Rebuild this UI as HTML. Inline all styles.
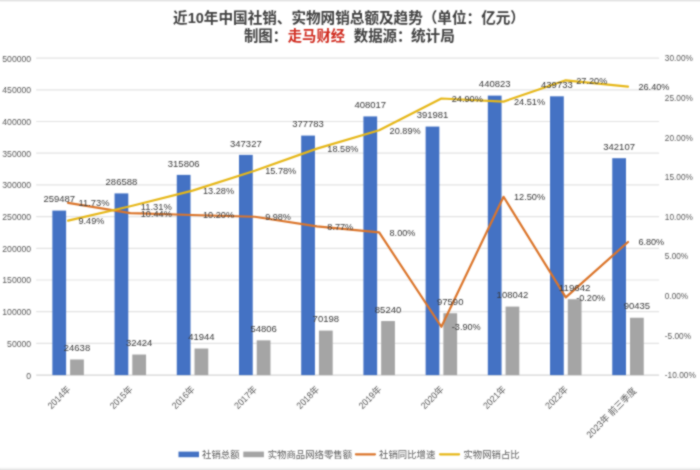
<!DOCTYPE html>
<html lang="zh-CN">
<head>
<meta charset="utf-8">
<title>近10年中国社销、实物网销总额及趋势</title>
<style>
html,body{margin:0;padding:0;background:#ffffff;}
body{width:700px;height:470px;overflow:hidden;position:relative;font-family:"Liberation Sans","Noto Sans CJK SC",sans-serif;}
svg text{white-space:pre;}
</style>
</head>
<body>
<svg width="700" height="470" viewBox="0 0 700 470" style="display:block;position:absolute;left:0;top:0">
<defs><filter id="soft" x="0" y="0" width="700" height="470" filterUnits="userSpaceOnUse" color-interpolation-filters="sRGB"><feConvolveMatrix order="3" kernelMatrix="1 2 1 2 8 2 1 2 1" divisor="20" edgeMode="duplicate" preserveAlpha="true"/></filter><linearGradient id="tg" x1="0" y1="0" x2="0" y2="1"><stop offset="0" stop-color="#d8d8d8"/><stop offset="0.5" stop-color="#f1f1f1"/><stop offset="1" stop-color="#ffffff"/></linearGradient><linearGradient id="bg" x1="0" y1="0" x2="0" y2="1"><stop offset="0" stop-color="#ffffff"/><stop offset="0.5" stop-color="#f3f3f3"/><stop offset="1" stop-color="#dcdcdc"/></linearGradient></defs>
<g filter="url(#soft)">
<rect x="0" y="0" width="700" height="470" fill="#ffffff"/>
<rect x="0" y="0" width="700" height="2.5" fill="url(#tg)"/>
<rect x="0" y="467" width="700" height="3" fill="url(#bg)"/>
<g stroke="#e0e0e0" stroke-width="1.2">
<line x1="36.2" y1="375.10" x2="659.1" y2="375.10" stroke="#d6d6d6"/>
<line x1="36.2" y1="343.40" x2="659.1" y2="343.40" stroke="#e3e3e3"/>
<line x1="36.2" y1="311.70" x2="659.1" y2="311.70" stroke="#e3e3e3"/>
<line x1="36.2" y1="280.00" x2="659.1" y2="280.00" stroke="#e3e3e3"/>
<line x1="36.2" y1="248.30" x2="659.1" y2="248.30" stroke="#e3e3e3"/>
<line x1="36.2" y1="216.60" x2="659.1" y2="216.60" stroke="#e3e3e3"/>
<line x1="36.2" y1="184.90" x2="659.1" y2="184.90" stroke="#e3e3e3"/>
<line x1="36.2" y1="153.20" x2="659.1" y2="153.20" stroke="#e3e3e3"/>
<line x1="36.2" y1="121.50" x2="659.1" y2="121.50" stroke="#e3e3e3"/>
<line x1="36.2" y1="89.80" x2="659.1" y2="89.80" stroke="#e3e3e3"/>
<line x1="36.2" y1="58.10" x2="659.1" y2="58.10" stroke="#e3e3e3"/>
</g>
<g font-family='"Liberation Sans", "Noto Sans CJK SC", sans-serif' font-size="8.9" fill="#595959" text-anchor="end">
<text x="31.2" y="378.50" textLength="4.83" lengthAdjust="spacingAndGlyphs">0</text>
<text x="31.2" y="346.80" textLength="24.15" lengthAdjust="spacingAndGlyphs">50000</text>
<text x="31.2" y="315.10" textLength="28.98" lengthAdjust="spacingAndGlyphs">100000</text>
<text x="31.2" y="283.40" textLength="28.98" lengthAdjust="spacingAndGlyphs">150000</text>
<text x="31.2" y="251.70" textLength="28.98" lengthAdjust="spacingAndGlyphs">200000</text>
<text x="31.2" y="220.00" textLength="28.98" lengthAdjust="spacingAndGlyphs">250000</text>
<text x="31.2" y="188.30" textLength="28.98" lengthAdjust="spacingAndGlyphs">300000</text>
<text x="31.2" y="156.60" textLength="28.98" lengthAdjust="spacingAndGlyphs">350000</text>
<text x="31.2" y="124.90" textLength="28.98" lengthAdjust="spacingAndGlyphs">400000</text>
<text x="31.2" y="93.20" textLength="28.98" lengthAdjust="spacingAndGlyphs">450000</text>
<text x="31.2" y="61.50" textLength="28.98" lengthAdjust="spacingAndGlyphs">500000</text>
</g>
<g font-family='"Liberation Sans", "Noto Sans CJK SC", sans-serif' font-size="8.7" fill="#595959" text-anchor="start">
<text x="664.8" y="378.30" textLength="31.00" lengthAdjust="spacingAndGlyphs">-10.00%</text>
<text x="664.8" y="338.68" textLength="26.30" lengthAdjust="spacingAndGlyphs">-5.00%</text>
<text x="664.8" y="299.05" textLength="23.40" lengthAdjust="spacingAndGlyphs">0.00%</text>
<text x="664.8" y="259.43" textLength="23.40" lengthAdjust="spacingAndGlyphs">5.00%</text>
<text x="664.8" y="219.80" textLength="28.10" lengthAdjust="spacingAndGlyphs">10.00%</text>
<text x="664.8" y="180.18" textLength="28.10" lengthAdjust="spacingAndGlyphs">15.00%</text>
<text x="664.8" y="140.55" textLength="28.10" lengthAdjust="spacingAndGlyphs">20.00%</text>
<text x="664.8" y="100.93" textLength="28.10" lengthAdjust="spacingAndGlyphs">25.00%</text>
<text x="664.8" y="61.30" textLength="28.10" lengthAdjust="spacingAndGlyphs">30.00%</text>
</g>
<g>
<rect x="52.36" y="210.59" width="13.75" height="164.51" fill="#4472c4"/>
<rect x="70.11" y="359.48" width="13.75" height="15.62" fill="#a5a5a5"/>
<rect x="114.56" y="193.40" width="13.75" height="181.70" fill="#4472c4"/>
<rect x="132.31" y="354.54" width="13.75" height="20.56" fill="#a5a5a5"/>
<rect x="176.78" y="174.88" width="13.75" height="200.22" fill="#4472c4"/>
<rect x="194.53" y="348.51" width="13.75" height="26.59" fill="#a5a5a5"/>
<rect x="238.99" y="154.89" width="13.75" height="220.21" fill="#4472c4"/>
<rect x="256.74" y="340.35" width="13.75" height="34.75" fill="#a5a5a5"/>
<rect x="301.19" y="135.59" width="13.75" height="239.51" fill="#4472c4"/>
<rect x="318.94" y="330.59" width="13.75" height="44.51" fill="#a5a5a5"/>
<rect x="363.41" y="116.42" width="13.75" height="258.68" fill="#4472c4"/>
<rect x="381.16" y="321.06" width="13.75" height="54.04" fill="#a5a5a5"/>
<rect x="425.62" y="126.58" width="13.75" height="248.52" fill="#4472c4"/>
<rect x="443.37" y="313.23" width="13.75" height="61.87" fill="#a5a5a5"/>
<rect x="487.82" y="95.62" width="13.75" height="279.48" fill="#4472c4"/>
<rect x="505.57" y="306.60" width="13.75" height="68.50" fill="#a5a5a5"/>
<rect x="550.03" y="96.31" width="13.75" height="278.79" fill="#4472c4"/>
<rect x="567.78" y="299.25" width="13.75" height="75.85" fill="#a5a5a5"/>
<rect x="612.25" y="158.20" width="13.75" height="216.90" fill="#4472c4"/>
<rect x="630.00" y="317.76" width="13.75" height="57.34" fill="#a5a5a5"/>
</g>
<polyline points="68.11,202.89 130.31,213.11 192.53,215.02 254.74,216.76 316.94,226.35 379.16,232.45 441.37,326.76 503.57,196.79 565.78,297.44 628.00,241.96" fill="none" stroke="#db752b" stroke-width="2.2" stroke-linejoin="round" stroke-linecap="round"/>
<polyline points="68.11,220.64 130.31,206.22 192.53,190.61 254.74,170.79 316.94,148.60 379.16,130.30 441.37,98.52 503.57,101.61 565.78,80.29 628.00,86.63" fill="none" stroke="#e6b718" stroke-width="2.2" stroke-linejoin="round" stroke-linecap="round"/>
<g font-family='"Liberation Sans", "Noto Sans CJK SC", sans-serif' font-size="9.6" fill="#383838">
<text x="59.23" y="202.24" text-anchor="middle" textLength="31.68" lengthAdjust="spacingAndGlyphs">259487</text>
<text x="76.98" y="351.13" text-anchor="middle" textLength="26.40" lengthAdjust="spacingAndGlyphs">24638</text>
<text x="121.44" y="185.05" text-anchor="middle" textLength="31.68" lengthAdjust="spacingAndGlyphs">286588</text>
<text x="139.19" y="346.19" text-anchor="middle" textLength="26.40" lengthAdjust="spacingAndGlyphs">32424</text>
<text x="183.65" y="166.53" text-anchor="middle" textLength="31.68" lengthAdjust="spacingAndGlyphs">315806</text>
<text x="201.40" y="340.16" text-anchor="middle" textLength="26.40" lengthAdjust="spacingAndGlyphs">41944</text>
<text x="245.86" y="146.54" text-anchor="middle" textLength="31.68" lengthAdjust="spacingAndGlyphs">347327</text>
<text x="263.61" y="332.00" text-anchor="middle" textLength="26.40" lengthAdjust="spacingAndGlyphs">54806</text>
<text x="308.07" y="127.24" text-anchor="middle" textLength="31.68" lengthAdjust="spacingAndGlyphs">377783</text>
<text x="325.82" y="322.24" text-anchor="middle" textLength="26.40" lengthAdjust="spacingAndGlyphs">70198</text>
<text x="370.28" y="108.07" text-anchor="middle" textLength="31.68" lengthAdjust="spacingAndGlyphs">408017</text>
<text x="388.03" y="312.71" text-anchor="middle" textLength="26.40" lengthAdjust="spacingAndGlyphs">85240</text>
<text x="432.49" y="118.23" text-anchor="middle" textLength="31.68" lengthAdjust="spacingAndGlyphs">391981</text>
<text x="450.24" y="304.88" text-anchor="middle" textLength="26.40" lengthAdjust="spacingAndGlyphs">97590</text>
<text x="494.70" y="87.27" text-anchor="middle" textLength="31.68" lengthAdjust="spacingAndGlyphs">440823</text>
<text x="512.45" y="298.25" text-anchor="middle" textLength="31.68" lengthAdjust="spacingAndGlyphs">108042</text>
<text x="556.91" y="87.96" text-anchor="middle" textLength="31.68" lengthAdjust="spacingAndGlyphs">439733</text>
<text x="574.66" y="290.90" text-anchor="middle" textLength="31.68" lengthAdjust="spacingAndGlyphs">119642</text>
<text x="619.12" y="149.85" text-anchor="middle" textLength="31.68" lengthAdjust="spacingAndGlyphs">342107</text>
<text x="636.87" y="309.41" text-anchor="middle" textLength="26.40" lengthAdjust="spacingAndGlyphs">90435</text>
<text x="78.51" y="206.34" textLength="31.12" lengthAdjust="spacingAndGlyphs">11.73%</text>
<text x="78.51" y="224.09" textLength="25.84" lengthAdjust="spacingAndGlyphs">9.49%</text>
<text x="140.72" y="216.56" textLength="31.12" lengthAdjust="spacingAndGlyphs">10.44%</text>
<text x="140.72" y="209.67" textLength="31.12" lengthAdjust="spacingAndGlyphs">11.31%</text>
<text x="202.93" y="218.47" textLength="31.12" lengthAdjust="spacingAndGlyphs">10.20%</text>
<text x="202.93" y="194.06" textLength="31.12" lengthAdjust="spacingAndGlyphs">13.28%</text>
<text x="265.13" y="220.21" textLength="25.84" lengthAdjust="spacingAndGlyphs">9.98%</text>
<text x="265.13" y="174.24" textLength="31.12" lengthAdjust="spacingAndGlyphs">15.78%</text>
<text x="327.34" y="229.80" textLength="25.84" lengthAdjust="spacingAndGlyphs">8.77%</text>
<text x="327.34" y="152.05" textLength="31.12" lengthAdjust="spacingAndGlyphs">18.58%</text>
<text x="389.56" y="235.90" textLength="25.84" lengthAdjust="spacingAndGlyphs">8.00%</text>
<text x="389.56" y="133.75" textLength="31.12" lengthAdjust="spacingAndGlyphs">20.89%</text>
<text x="451.76" y="330.21" textLength="28.99" lengthAdjust="spacingAndGlyphs">-3.90%</text>
<text x="451.76" y="101.97" textLength="31.12" lengthAdjust="spacingAndGlyphs">24.90%</text>
<text x="513.98" y="200.24" textLength="31.12" lengthAdjust="spacingAndGlyphs">12.50%</text>
<text x="513.98" y="105.06" textLength="31.12" lengthAdjust="spacingAndGlyphs">24.51%</text>
<text x="576.18" y="300.88" textLength="28.99" lengthAdjust="spacingAndGlyphs">-0.20%</text>
<text x="576.18" y="83.74" textLength="31.12" lengthAdjust="spacingAndGlyphs">27.20%</text>
<text x="638.39" y="245.41" textLength="25.84" lengthAdjust="spacingAndGlyphs">6.80%</text>
<text x="638.39" y="90.08" textLength="31.12" lengthAdjust="spacingAndGlyphs">26.40%</text>
</g>
<g font-family='"Liberation Sans", "Noto Sans CJK SC", sans-serif' font-size="9.3" fill="#595959" text-anchor="end">
<text transform="translate(71.01,389.90) rotate(-45)" xml:space="preserve" textLength="27.7" lengthAdjust="spacingAndGlyphs">2014年</text>
<text transform="translate(133.22,389.90) rotate(-45)" xml:space="preserve" textLength="27.7" lengthAdjust="spacingAndGlyphs">2015年</text>
<text transform="translate(195.43,389.90) rotate(-45)" xml:space="preserve" textLength="27.7" lengthAdjust="spacingAndGlyphs">2016年</text>
<text transform="translate(257.63,389.90) rotate(-45)" xml:space="preserve" textLength="27.7" lengthAdjust="spacingAndGlyphs">2017年</text>
<text transform="translate(319.84,389.90) rotate(-45)" xml:space="preserve" textLength="27.7" lengthAdjust="spacingAndGlyphs">2018年</text>
<text transform="translate(382.06,389.90) rotate(-45)" xml:space="preserve" textLength="27.7" lengthAdjust="spacingAndGlyphs">2019年</text>
<text transform="translate(444.26,389.90) rotate(-45)" xml:space="preserve" textLength="27.7" lengthAdjust="spacingAndGlyphs">2020年</text>
<text transform="translate(506.47,389.90) rotate(-45)" xml:space="preserve" textLength="27.7" lengthAdjust="spacingAndGlyphs">2021年</text>
<text transform="translate(568.68,389.90) rotate(-45)" xml:space="preserve" textLength="27.7" lengthAdjust="spacingAndGlyphs">2022年</text>
<text transform="translate(637.00,391.60) rotate(-45)" xml:space="preserve" textLength="66.2" lengthAdjust="spacingAndGlyphs">2023年 前三季度</text>
</g>
<g font-family='"Liberation Sans", "Noto Sans CJK SC", sans-serif' font-size="9.4" fill="#595959">
<rect x="178.5" y="451.6" width="20.5" height="5.6" fill="#4472c4"/>
<text x="202.1" y="457.7">社销总额</text>
<rect x="243.3" y="451.6" width="20.6" height="5.6" fill="#a5a5a5"/>
<text x="267.7" y="457.7">实物商品网络零售额</text>
<line x1="355.9" y1="454.3" x2="375" y2="454.3" stroke="#db752b" stroke-width="2.2" stroke-linecap="round"/>
<text x="379.1" y="457.7">社销同比增速</text>
<line x1="440" y1="454.3" x2="459.1" y2="454.3" stroke="#e6b718" stroke-width="2.2" stroke-linecap="round"/>
<text x="463.4" y="457.7">实物网销占比</text>
</g>
<g font-family='"Liberation Sans", "Noto Sans CJK SC", sans-serif' font-size="14.6" font-weight="bold" fill="#404040" text-anchor="middle">
<text x="349" y="23.2">近10年中国社销、实物网销总额及趋势（单位：亿元）</text>
<text x="243.9" y="41.3" text-anchor="start" font-size="14.4">制图：</text>
<text x="287.8" y="41.3" text-anchor="start" font-size="14.3" fill="#d02a1e">走马财经</text>
<text x="353.8" y="41.3" text-anchor="start" font-size="14.4">数据源：</text>
<text x="411.0" y="41.3" text-anchor="start" font-size="14.6">统计局</text>
</g>
</g>
</svg>
</body>
</html>
